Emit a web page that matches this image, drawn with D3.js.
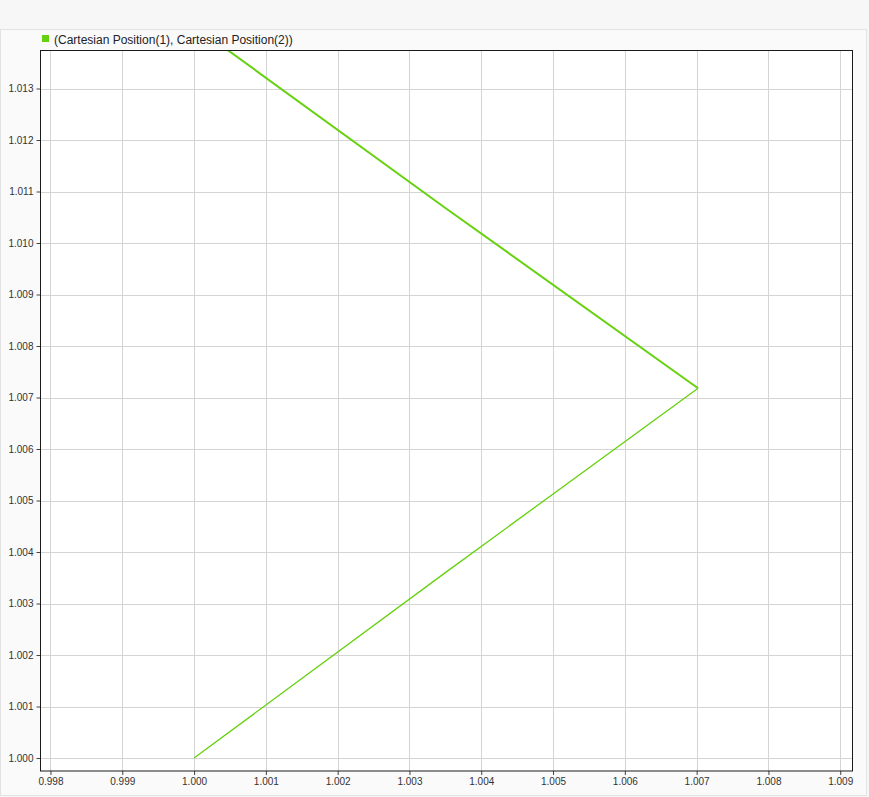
<!DOCTYPE html>
<html>
<head>
<meta charset="utf-8">
<script src="https://cdn.jsdelivr.net/npm/d3@7"></script>
<style>
  html, body { margin: 0; padding: 0; background: #f7f7f7; }
  svg { display: block; font-family: Arial, "Liberation Sans", sans-serif; }
</style>
</head>
<body>
<svg id="chart" width="869" height="797"></svg>
<script>
// ---- data ----
const seriesName = "(Cartesian Position(1), Cartesian Position(2))";
const posX = [1.0000, 1.0035, 1.00702, 1.0035, 1.0000];
const posY = [1.0000, 1.0036, 1.00718, 1.01068, 1.01422];
const xTicks = [0.998, 0.999, 1.000, 1.001, 1.002, 1.003, 1.004, 1.005, 1.006, 1.007, 1.008, 1.009];
const yTicks = [1.000, 1.001, 1.002, 1.003, 1.004, 1.005, 1.006, 1.007, 1.008, 1.009, 1.010, 1.011, 1.012, 1.013];
const xDomain = [0.997861, 1.009171];
const yDomain = [0.999748, 1.013738];

// ---- layout ----
const svg = d3.select("#chart");
const W = 869, H = 797;
const plot = { left: 40.5, right: 852.5, top: 50.5, bottom: 771 };
const color = "#66d10f";

// background panel
svg.append("rect").attr("x", 0).attr("y", 0).attr("width", W).attr("height", H).attr("fill", "#f7f7f7");
svg.append("rect").attr("x", 0.5).attr("y", 29.5).attr("width", 866).attr("height", 766)
  .attr("fill", "#fafafa").attr("stroke", "#e3e3e3").attr("stroke-width", 1);

const x = d3.scaleLinear().domain(xDomain).range([plot.left, plot.right]);
const y = d3.scaleLinear().domain(yDomain).range([plot.bottom, plot.top]);

svg.append("rect").attr("x", plot.left).attr("y", plot.top)
  .attr("width", plot.right - plot.left).attr("height", plot.bottom - plot.top)
  .attr("fill", "#ffffff");

// grid
const grid = svg.append("g");
grid.selectAll("line.vx").data(xTicks).join("line")
  .attr("x1", d => Math.round(x(d)) + 0.5).attr("x2", d => Math.round(x(d)) + 0.5)
  .attr("y1", plot.top).attr("y2", plot.bottom)
  .attr("stroke", "#d4d4d4").attr("stroke-width", 1);
grid.selectAll("line.hy").data(yTicks).join("line")
  .attr("y1", d => Math.round(y(d)) + 0.5).attr("y2", d => Math.round(y(d)) + 0.5)
  .attr("x1", plot.left).attr("x2", plot.right)
  .attr("stroke", "#d4d4d4").attr("stroke-width", 1);

// clip
svg.append("clipPath").attr("id", "clip").append("rect")
  .attr("x", plot.left).attr("y", plot.top)
  .attr("width", plot.right - plot.left).attr("height", plot.bottom - plot.top);

const pts = posX.map((v, i) => [v, posY[i]]);
const line = d3.line().x(d => x(d[0])).y(d => y(d[1]));
const g = svg.append("g").attr("clip-path", "url(#clip)");
// outbound leg
g.append("path").datum(pts.slice(0, 3)).attr("d", line)
  .attr("fill", "none").attr("stroke", color).attr("stroke-width", 1.3).attr("stroke-linejoin", "round");
// return leg (retraced, appears heavier)
g.append("path").datum(pts.slice(2)).attr("d", line)
  .attr("fill", "none").attr("stroke", color).attr("stroke-width", 2).attr("stroke-linejoin", "round");

// axes
const xAxis = d3.axisBottom(x).tickValues(xTicks).tickFormat(d3.format(".3f")).tickSize(5).tickSizeOuter(0);
const yAxis = d3.axisLeft(y).tickValues(yTicks).tickFormat(d3.format(".3f")).tickSize(5).tickSizeOuter(0);

const gx = svg.append("g").attr("transform", `translate(0,${plot.bottom})`).call(xAxis);
gx.select(".domain").remove();
gx.selectAll("line").attr("stroke", "#444").attr("y2", 4);
gx.selectAll("text").attr("fill", "#333").attr("font-size", 10).attr("y", 7);

const gy = svg.append("g").attr("transform", `translate(${plot.left},0)`).call(yAxis);
gy.select(".domain").remove();
gy.selectAll("line").attr("stroke", "#444").attr("x2", -4);
gy.selectAll("text").attr("fill", "#333").attr("font-size", 10).attr("x", -7);

// plot border
svg.append("rect").attr("x", plot.left).attr("y", plot.top)
  .attr("width", plot.right - plot.left).attr("height", plot.bottom - plot.top)
  .attr("fill", "none").attr("stroke", "#1a1a1a").attr("stroke-width", 1);

// legend
svg.append("rect").attr("x", 42).attr("y", 35).attr("width", 7).attr("height", 7).attr("fill", color);
svg.append("text").attr("x", 54).attr("y", 43.5).attr("font-size", 12).attr("fill", "#222").text(seriesName);
</script>
</body>
</html>
